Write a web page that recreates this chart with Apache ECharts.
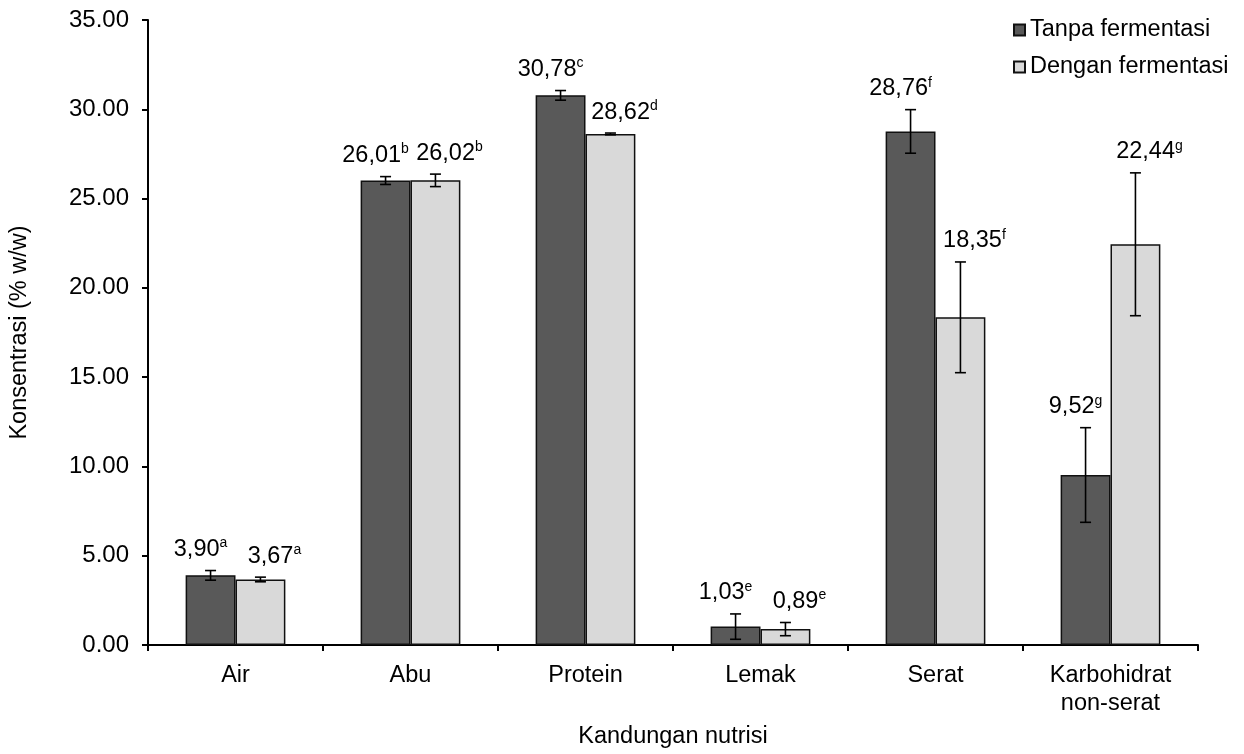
<!DOCTYPE html>
<html>
<head>
<meta charset="utf-8">
<script src="https://cdn.jsdelivr.net/npm/echarts@6/dist/echarts.min.js"></script>
<style>
  html, body { margin: 0; padding: 0; background: #fff; }
  #chart { width: 1244px; height: 754px; }
</style>
</head>
<body>
<div id="chart"></div>
<script>
// data
var categories = ['Air', 'Abu', 'Protein', 'Lemak', 'Serat', 'Karbohidrat\nnon-serat'];
var tanpa = [3.90, 26.01, 30.78, 1.03, 28.76, 9.52];
var dengan = [3.67, 26.02, 28.62, 0.89, 18.35, 22.44];
var tanpaErr = [0.27, 0.22, 0.27, 0.71, 1.22, 2.65];
var denganErr = [0.13, 0.35, 0.05, 0.37, 3.10, 4.00];
var tanpaSup = ['a', 'b', 'c', 'e', 'f', 'g'];
var denganSup = ['a', 'b', 'd', 'e', 'f', 'g'];
var yTicks = [0, 5, 10, 15, 20, 25, 30, 35];

var FONT = 'Liberation Sans, Arial, sans-serif';
var FS = 23.5;
var BAR_PCT = 0.285;

function errData(vals, errs, sups) {
    return vals.map(function (v, i) { return [i, v, errs[i], sups[i]]; });
}

// error bars + value labels ("3,90" with superscript letter)
function errSeries(name, vals, errs, sups, side, labelShift) {
    return {
        name: name + '_err',
        type: 'custom',
        z: 5,
        encode: { x: 0, y: 1 },
        data: errData(vals, errs, sups),
        renderItem: function (params, api) {
            var i = api.value(0), v = api.value(1), e = api.value(2);
            var sup = sups[i];
            var band = api.size([1, 0])[0];
            var cx = api.coord([i, v])[0] + side * band * BAR_PCT / 2;
            var top = api.coord([i, v + e])[1];
            var bot = api.coord([i, v - e])[1];
            var cap = 5.5;
            var ls = { stroke: '#000', lineWidth: 1.6 };
            return {
                type: 'group',
                children: [
                    { type: 'line', shape: { x1: cx, y1: top, x2: cx, y2: bot }, style: ls },
                    { type: 'line', shape: { x1: cx - cap, y1: top, x2: cx + cap, y2: top }, style: ls },
                    { type: 'line', shape: { x1: cx - cap, y1: bot, x2: cx + cap, y2: bot }, style: ls },
                    {
                        type: 'text',
                        style: {
                            x: cx + labelShift, y: top - 8,
                            align: 'center', verticalAlign: 'bottom',
                            text: '{v|' + v.toFixed(2).replace('.', ',') + '}{s|' + sup + '}',
                            rich: {
                                v: { fontSize: FS, fontFamily: FONT, fill: '#000', color: '#000', lineHeight: 26 },
                                s: { fontSize: 14, fontFamily: FONT, fill: '#000', color: '#000', lineHeight: 18, verticalAlign: 'top' }
                            }
                        }
                    }
                ]
            };
        }
    };
}

var myChart = echarts.init(document.getElementById('chart'));
var option = {
    animation: false,
    backgroundColor: '#fff',
    textStyle: { fontFamily: FONT },
    grid: { left: 145, right: 46, top: 20, bottom: 102, containLabel: false },
    legend: {
        orient: 'vertical',
        left: 1008,
        top: 13,
        itemGap: 13,
        itemWidth: 11,
        itemHeight: 11,
        icon: 'rect',
        data: ['Tanpa fermentasi', 'Dengan fermentasi'],
        textStyle: { fontSize: FS, color: '#000', fontFamily: FONT, padding: [0, 0, 0, 0] }
    },
    xAxis: {
        type: 'category',
        data: categories,
        name: 'Kandungan nutrisi',
        nameLocation: 'middle',
        nameGap: 80,
        nameTextStyle: { fontSize: FS, color: '#000', fontFamily: FONT },
        axisLine: { lineStyle: { color: '#000', width: 2 } },
        axisTick: { show: true, length: 6, lineStyle: { color: '#000', width: 2 } },
        axisLabel: { fontSize: FS, color: '#000', fontFamily: FONT, margin: 17, lineHeight: 28 }
    },
    yAxis: {
        type: 'value',
        min: yTicks[0],
        max: yTicks[yTicks.length - 1],
        interval: 5,
        name: 'Konsentrasi (% w/w)',
        nameLocation: 'middle',
        nameGap: 116,
        nameTextStyle: { fontSize: FS, color: '#000', fontFamily: FONT },
        axisLine: { show: true, lineStyle: { color: '#000', width: 2 } },
        axisTick: { show: true, length: 6, lineStyle: { color: '#000', width: 2 } },
        splitLine: { show: false },
        axisLabel: {
            fontSize: 24, color: '#000', fontFamily: FONT, margin: 19,
            formatter: function (v) { return v.toFixed(2); }
        }
    },
    series: [
        {
            name: 'Tanpa fermentasi',
            type: 'bar',
            barWidth: (BAR_PCT * 100) + '%',
            barGap: '0%',
            itemStyle: { color: '#595959', borderColor: '#111', borderWidth: 1.5 },
            data: tanpa
        },
        {
            name: 'Dengan fermentasi',
            type: 'bar',
            barWidth: (BAR_PCT * 100) + '%',
            barGap: '0%',
            itemStyle: { color: '#d9d9d9', borderColor: '#111', borderWidth: 1.5 },
            data: dengan
        },
        errSeries('Tanpa fermentasi', tanpa, tanpaErr, tanpaSup, -1, -10),
        errSeries('Dengan fermentasi', dengan, denganErr, denganSup, 1, 14)
    ]
};
myChart.setOption(option);
window.addEventListener('resize', function () {
    myChart.resize();
});
</script>
</body>
</html>
